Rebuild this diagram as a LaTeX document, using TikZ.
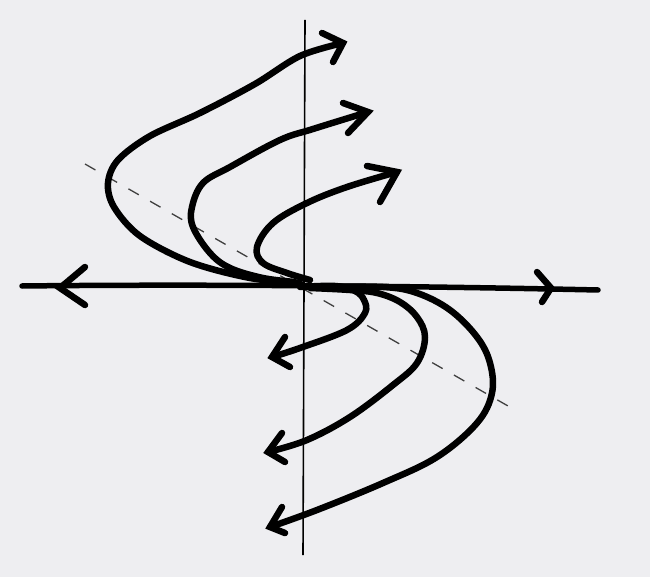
\documentclass[tikz,border=0pt]{standalone}
\begin{document}
\begin{tikzpicture}[x=1pt,y=-1pt,
  paper/.style={fill={rgb,255:red,238;green,238;blue,241}, draw=none},
  traj/.style={line width=6.5pt, line cap=round, line join=round, black},
  barb/.style={line width=6.5pt, line cap=round, black},
  axis/.style={line width=5.5pt, line cap=round, black},
  vaxis/.style={line width=1.6pt, black},
  guide/.style={line width=1.3pt, dash pattern=on 12pt off 13pt, black!75}]
\fill[paper] (0,0) rectangle (650,577);
\useasboundingbox (0,0) rectangle (650,577);
% dashed guide line
\draw[guide] (85,164) -- (515,410);
% vertical axis
\draw[vaxis] (305,20) -- (303,555);
% horizontal axis
\draw[axis] (22,286) .. controls (200,284) and (420,286) .. (598,290);
\draw[barb] (85,267) -- (60,288) -- (85,305);
\draw[barb] (537,272) -- (551,288) -- (542,302);
% upper outer
\draw[traj] plot[smooth, tension=0.55] coordinates {(300,283) (250,278) (190,262) (140,236) (114,207) (108,183) (118,160) (150,136) (200,113) (255,84) (300,56) (343,43)};
\draw[barb] (322,33) -- (343,43) -- (333,62);
% upper middle
\draw[traj] plot[smooth, tension=0.6] coordinates {(295,282) (263,278) (230,268) (210,253) (193,227) (192,207) (203,183) (230,167) (280,140) (313,129) (368,112)};
\draw[barb] (343,103) -- (368,112) -- (348,133);
% upper inner
\draw[traj] plot[smooth, tension=0.6] coordinates {(310,280) (287,273) (263,263) (257,247) (273,223) (307,203) (347,187) (397,172)};
\draw[barb] (367,166) -- (397,172) -- (380,202);
% lower inner
\draw[traj] plot[smooth, tension=0.6] coordinates {(300,287) (335,286) (355,291) (364,300) (365,313) (347,330) (300,348) (272,357)};
\draw[barb] (285,337) -- (272,357) -- (290,367);
% lower middle
\draw[traj] plot[smooth, tension=0.6] coordinates {(310,288) (350,290) (377,293) (400,302) (417,317) (425,337) (417,363) (393,385) (350,417) (307,440) (268,452)};
\draw[barb] (282,433) -- (268,452) -- (285,462);
% lower outer
\draw[traj] plot[smooth, tension=0.6] coordinates {(320,287) (383,287) (417,293) (450,310) (477,337) (490,363) (492,393) (477,423) (437,457) (383,483) (317,510) (270,527)};
\draw[barb] (282,507) -- (270,527) -- (285,533);
\end{tikzpicture}
\end{document}
